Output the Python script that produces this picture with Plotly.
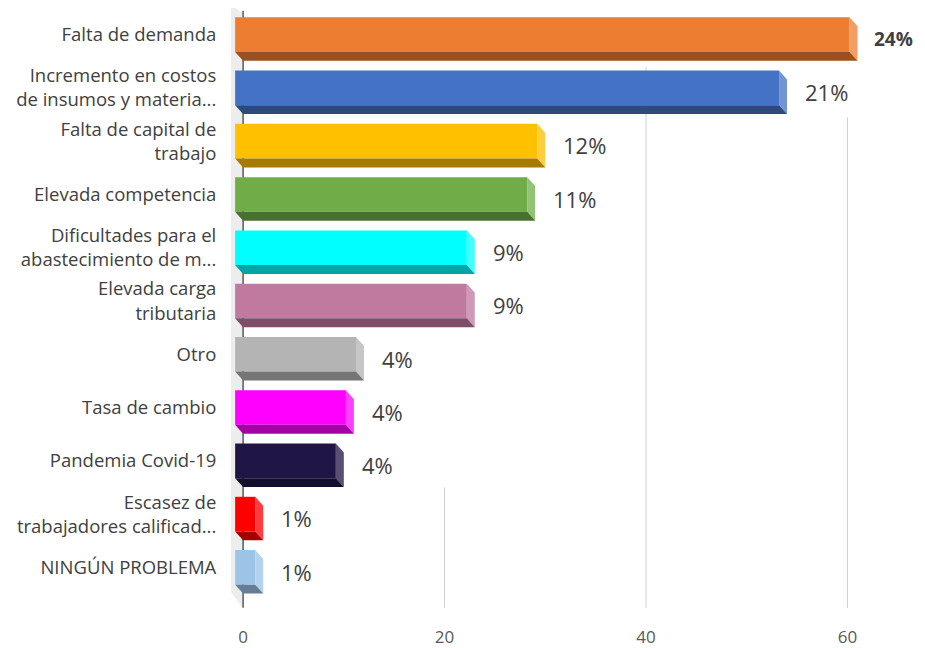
import plotly.graph_objects as go

# data
categories = [
    "Falta de demanda",
    "Incremento en costos<br>de insumos y materia...",
    "Falta de capital de<br>trabajo",
    "Elevada competencia",
    "Dificultades para el<br>abastecimiento de m...",
    "Elevada carga<br>tributaria",
    "Otro",
    "Tasa de cambio",
    "Pandemia Covid-19",
    "Escasez de<br>trabajadores calificad...",
    "NINGÚN PROBLEMA",
]
values = [61, 54, 30, 29, 23, 23, 12, 11, 10, 2, 2]
pct_labels = ["24%", "21%", "12%", "11%", "9%", "9%", "4%", "4%", "4%", "1%", "1%"]
x_ticks = [0, 20, 40, 60]

bar_colors = ["#ED7D31", "#4472C4", "#FFC000", "#70AD47", "#00FFFF", "#C0799F",
              "#B4B4B4", "#FF00FF", "#1F1646", "#FF0000", "#9DC3E6"]

# fake 3d depth (x in value units, y in category units)
DX = 0.79
DY = 0.167
BAR_W = 0.65


def shade(hex_color, f):
    """f > 0 mixes towards white, f < 0 darkens."""
    r, g, b = (int(hex_color[i:i + 2], 16) for i in (1, 3, 5))
    if f >= 0:
        r, g, b = (int(c + (255 - c) * f) for c in (r, g, b))
    else:
        r, g, b = (int(c * (1 + f)) for c in (r, g, b))
    return "rgb(%d,%d,%d)" % (r, g, b)


idx = list(range(len(categories)))
h = BAR_W / 2
y_bottom = 10.8

fig = go.Figure()

# left wall of the 3d box
fig.add_shape(type="path", layer="below", line_width=0, fillcolor="#EDEDED",
              path="M -1.2,-0.565 L 0,-0.4 L 0,10.77 L -1.2,10.46 Z")

# gridlines (partly hidden behind the labels in the original)
grid_start = {20: 8.5, 40: 0.6, 60: 1.55}
for t in x_ticks[1:]:
    fig.add_shape(type="line", layer="below", x0=t, x1=t, y0=grid_start[t], y1=10.76,
                  line=dict(color="#D0D0D0", width=1))
fig.add_shape(type="line", layer="below", x0=0, x1=0, y0=-0.45, y1=10.76,
              line=dict(color="#595959", width=1.5))

fig.add_trace(go.Bar(y=idx, x=values, base=[-DX] * len(values), orientation="h",
                     width=BAR_W, marker=dict(color=bar_colors, line_width=0),
                     hoverinfo="skip"))

for c, v, col in zip(idx, values, bar_colors):
    # right side face
    fig.add_shape(type="path", line_width=0, fillcolor=shade(col, 0.25),
                  path="M %f,%f L %f,%f L %f,%f L %f,%f Z" % (
                      v - DX, c - h, v, c - h + DY, v, c + h + DY, v - DX, c + h))
    # bottom face
    fig.add_shape(type="path", line_width=0, fillcolor=shade(col, -0.35),
                  path="M %f,%f L %f,%f L %f,%f L %f,%f Z" % (
                      -DX, c + h, v - DX, c + h, v, c + h + DY, 0, c + h + DY))

for c, v, lab in zip(idx, values, pct_labels):
    first = c == 0
    fig.add_annotation(x=v, y=c + 0.08, text=lab, showarrow=False, xanchor="left",
                       xshift=14 if first else 16,
                       font=dict(family="Open Sans", size=19 if first else 22,
                                 color="#404040", weight=700 if first else 400))

# the page body adds an 8px margin, so the figure is 8px smaller than the window
fig.update_layout(
    width=917, height=640,
    margin=dict(l=223, r=4, t=0, b=30),
    paper_bgcolor="white", plot_bgcolor="white",
    showlegend=False,
    font=dict(family="Open Sans", color="#404040"),
    xaxis=dict(range=[-1.2, 67.3], tickvals=x_ticks, showgrid=False, zeroline=False,
               showline=False, ticks="outside", ticklen=12, tickcolor="rgba(0,0,0,0)",
               tickfont=dict(size=17, color="#595959")),
    yaxis=dict(range=[y_bottom, -0.5], tickvals=idx, ticktext=categories,
               showgrid=False, zeroline=False, showline=False,
               ticks="outside", ticklen=10, tickcolor="rgba(0,0,0,0)",
               tickfont=dict(size=18.5, color="#404040")),
)

fig.write_html("out.html")
